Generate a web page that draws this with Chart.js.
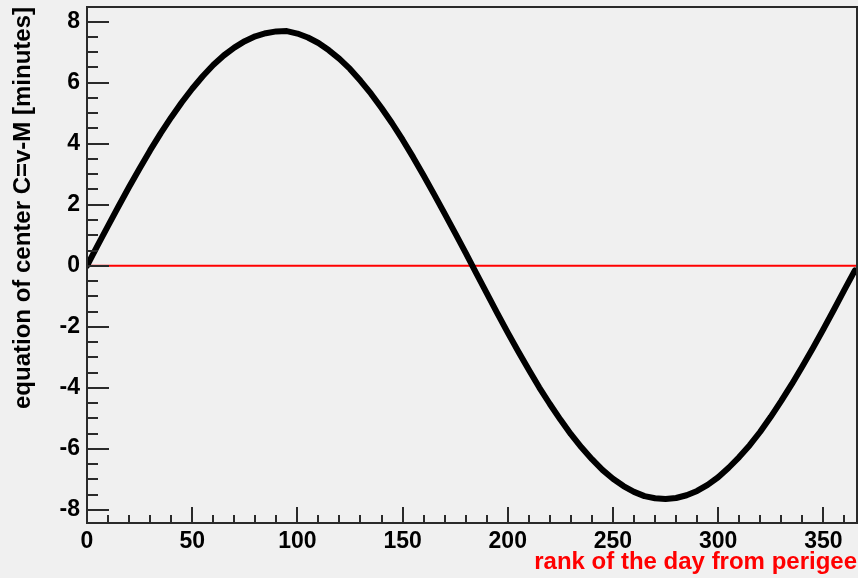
<!DOCTYPE html>
<html>
<head>
<meta charset="utf-8">
<script src="https://cdn.jsdelivr.net/npm/chart.js@4.4.1/dist/chart.umd.min.js"></script>
<style>
  html, body { margin: 0; padding: 0; background: #f0f0f0; }
  #wrap { width: 858px; height: 578px; }
</style>
</head>
<body>
<div id="wrap"><canvas id="c" width="858" height="578"></canvas></div>
<script>
// ---- data ----
const days = [0,5,10,15,20,25,30,35,40,45,50,55,60,65,70,75,80,85,90,95,100,105,110,115,120,125,130,135,140,145,150,155,160,165,170,175,180,185,190,195,200,205,210,215,220,225,230,235,240,245,250,255,260,265,270,275,280,285,290,295,300,305,310,315,320,325,330,335,340,345,350,355,360,365];
const centerMinutes = [0.00,0.66,1.31,1.95,2.58,3.19,3.78,4.34,4.86,5.35,5.80,6.21,6.58,6.89,7.15,7.36,7.52,7.62,7.68,7.69,7.61,7.48,7.30,7.06,6.78,6.45,6.06,5.64,5.17,4.67,4.13,3.56,2.96,2.34,1.71,1.07,0.42,-0.24,-0.90,-1.55,-2.19,-2.81,-3.41,-3.99,-4.53,-5.04,-5.52,-5.95,-6.34,-6.69,-6.98,-7.22,-7.41,-7.55,-7.62,-7.64,-7.61,-7.52,-7.38,-7.18,-6.93,-6.62,-6.27,-5.88,-5.44,-4.95,-4.43,-3.88,-3.30,-2.70,-2.08,-1.44,-0.79,-0.15];
const zeroLineX = [0, 366];
const zeroLineY = [0, 0];
const xTitle = 'rank of the day from perigee';
const yTitle = 'equation of center C=v-M [minutes]';

const curvePts = days.map((d, i) => ({x: d, y: centerMinutes[i]}));
const zeroPts = zeroLineX.map((d, i) => ({x: d, y: zeroLineY[i]}));

const FONT = "'Liberation Sans', Arial, Helvetica, sans-serif";

const frameAndTicks = {
  id: 'frameAndTicks',
  afterDraw(chart) {
    const {ctx, chartArea: a, scales: {x, y}} = chart;
    ctx.save();
    ctx.strokeStyle = '#2a2a2a';
    ctx.lineWidth = 2;
    ctx.lineCap = 'butt';
    for (let v = 0; v <= 366; v += 10) {
      const px = Math.round(x.getPixelForValue(v));
      const len = (v % 50 === 0) ? 16 : 8;
      ctx.beginPath();
      ctx.moveTo(px, a.bottom);
      ctx.lineTo(px, a.bottom - len);
      ctx.stroke();
    }
    for (let k = -16; k <= 16; k++) {
      const v = k * 0.5;
      const py = Math.round(y.getPixelForValue(v));
      const len = (k % 4 === 0) ? 22 : 11;
      ctx.beginPath();
      ctx.moveTo(a.left, py);
      ctx.lineTo(a.left + len, py);
      ctx.stroke();
    }
    ctx.strokeRect(a.left, a.top, a.right - a.left, a.bottom - a.top);
    ctx.restore();
  }
};

new Chart(document.getElementById('c'), {
  type: 'line',
  data: {
    datasets: [
      {
        data: curvePts,
        borderColor: '#000000',
        borderWidth: 6,
        pointRadius: 0,
        tension: 0,
        fill: false,
        borderJoinStyle: 'round',
        borderCapStyle: 'round',
        order: 0
      },
      {
        data: zeroPts,
        borderColor: '#ff0000',
        borderWidth: 2,
        pointRadius: 0,
        fill: false,
        order: 1
      }
    ]
  },
  options: {
    responsive: false,
    animation: false,
    devicePixelRatio: 1,
    layout: { padding: { top: 7, right: 1, left: 0, bottom: 0 } },
    plugins: { legend: { display: false }, tooltip: { enabled: false } },
    scales: {
      x: {
        type: 'linear',
        min: 0, max: 366,
        grid: { display: false, drawTicks: false },
        border: { display: false },
        ticks: {
          stepSize: 50, includeBounds: false, padding: 5,
          color: '#000', maxRotation: 0, autoSkip: false,
          font: { family: FONT, size: 23, weight: 'bold' }
        },
        title: {
          display: true, text: xTitle, align: 'end', color: '#ff0000',
          padding: { top: 0, bottom: 1 },
          font: { family: FONT, size: 24, weight: 'bold' }
        },
        afterFit(s) { s.height = 55; s.paddingLeft = 0; s.paddingRight = 0; }
      },
      y: {
        type: 'linear',
        min: -8.43, max: 8.48,
        grid: { display: false, drawTicks: false },
        border: { display: false },
        ticks: {
          stepSize: 2, includeBounds: false, padding: 7,
          color: '#000', autoSkip: false,
          font: { family: FONT, size: 23, weight: 'bold' }
        },
        title: {
          display: true, text: yTitle, align: 'end', color: '#000',
          padding: { top: 9, bottom: 0 },
          font: { family: FONT, size: 24, weight: 'bold' }
        },
        afterFit(s) { s.width = 87; s.paddingTop = 0; s.paddingBottom = 0; }
      }
    }
  },
  plugins: [frameAndTicks]
});
</script>
</body>
</html>
